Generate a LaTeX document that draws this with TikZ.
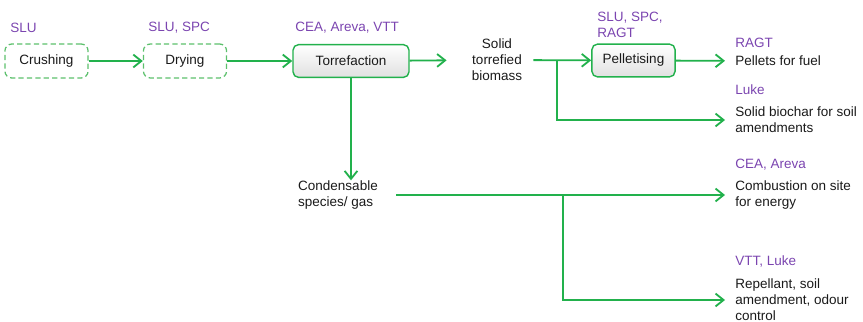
\documentclass[tikz,border=0pt]{standalone}
\usepackage{fontspec}
\setmainfont{Liberation Sans}
\usetikzlibrary{arrows.meta, positioning}
\definecolor{verde}{HTML}{22B14C}
\definecolor{verdeclaro}{HTML}{5CC06C}
\definecolor{morado}{HTML}{7B45B0}
\definecolor{texto}{HTML}{1A1A1A}
\tikzset{
  every picture/.style={font=\fontsize{9.6pt}{11.5pt}\selectfont, >={Straight Barb[length=0.2cm, width=0.32cm]}},
  paso/.style={draw=verdeclaro, line width=0.9pt, dash pattern=on 0.13cm off 0.08cm, rounded corners=5pt,
              minimum width=2.08cm, minimum height=0.85cm, text=texto},
  proc/.style={draw=verde, line width=1pt, rounded corners=4pt, top color=white, bottom color=black!12,
              minimum width=2.08cm, minimum height=0.82cm, text=texto},
  socio/.style={text=morado, anchor=west, inner sep=0pt, align=left},
  prod/.style={text=texto, align=center, inner ysep=0pt},
  sal/.style={text=texto, align=left, anchor=west, inner xsep=0.25cm, inner ysep=0pt},
  flecha/.style={->, verde, line width=1.3pt},
}

\begin{document}
\begin{tikzpicture}[x=0.025cm, y=-0.025cm]
  \useasboundingbox (0,0) rectangle (863,322);
  % pasos del proceso
  \node[paso] (cr) at (46.5,61) {Crushing};
  \node[paso] (dr) at (185,61) {Drying};
  \node[proc, minimum width=2.9cm] (to) at (351,61) {Torrefaction};
  \node[proc] (pe) at (633.5,60.5) {Pelletising};
  % socios
  \node[socio] (crs) at (10,28) {SLU};
  \node[socio] (drs) at (148,28) {SLU, SPC};
  \node[socio] (tos) at (295,28) {CEA, Areva, VTT};
  \node[socio] (pes) at (597,24.5) {SLU, SPC,\\RAGT};
  % productos intermedios
  \node[prod, inner xsep=0.275cm] (sb) at (497,60) {Solid\\torrefied\\biomass};
  \node[prod, align=left, inner xsep=0.45cm] (co) at (338,195) {Condensable\\species/ gas};
  \coordinate (ra) at (557,61);
  \coordinate (rb) at (563,194);
  % salidas
  \node[socio] (pfs) at (735,43) {RAGT};
  \node[sal] (pf) at (725,61) {Pellets for fuel};
  \node[socio] (bcs) at (735,90) {Luke};
  \node[sal] (bc) at (725,120) {Solid biochar for soil\\amendments};
  \node[socio] (ces) at (735,165) {CEA, Areva};
  \node[sal] (ce) at (725,195) {Combustion on site\\for energy};
  \node[socio] (res) at (735,261) {VTT, Luke};
  \node[sal] (re) at (725,300) {Repellant, soil\\amendment, odour\\control};
  % conexiones
  \draw[flecha] (cr) -- (dr); \draw[flecha] (dr) -- (to);
  \draw[flecha, shorten >=0.35cm] (to) -- (sb); \draw[flecha] (sb) -- (pe);
  \draw[flecha] (pe) -- (pf); \draw[flecha] (ra) |- (bc.west);
  \draw[flecha] (to.south) -- (to.south |- co.north);
  \draw[flecha] (co) -- (co -| ce.west); \draw[flecha] (rb) |- (re.west);
\end{tikzpicture}
\end{document}
